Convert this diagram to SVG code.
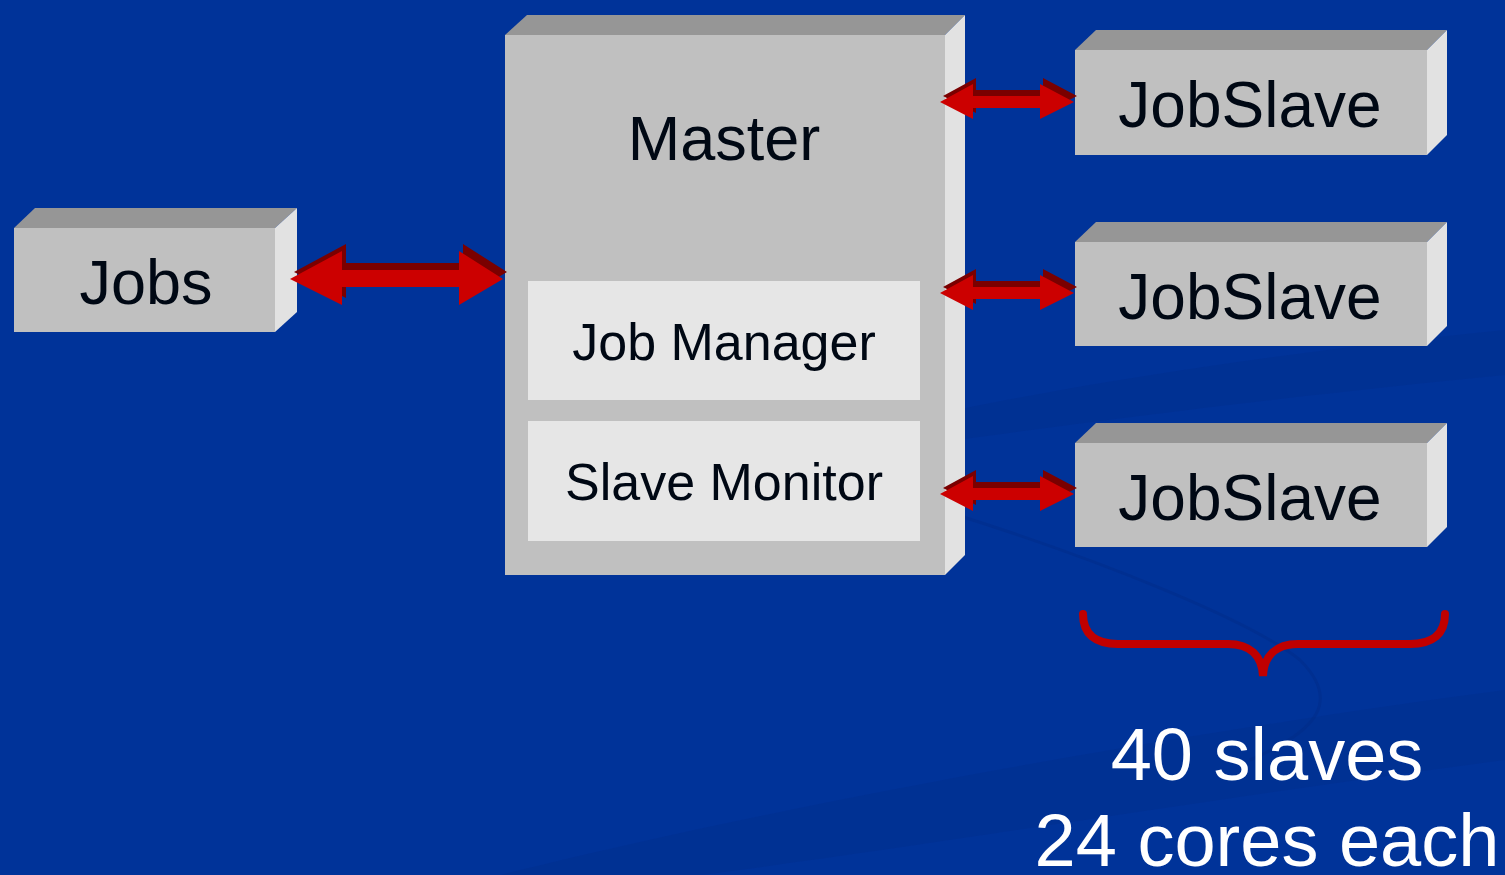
<svg xmlns="http://www.w3.org/2000/svg" xmlns:xlink="http://www.w3.org/1999/xlink" width="1505" height="875" viewBox="0 0 1505 875">
<style>
.front{fill:#c0c0c0}
.top{fill:#969696}
.side{fill:#e2e2e2}
.inner{fill:#e6e6e6}
.lbl{font-family:"Liberation Sans",Arial,sans-serif;fill:#000814;text-anchor:middle}
.wlbl{font-family:"Liberation Sans",Arial,sans-serif;fill:#ffffff;text-anchor:middle;font-size:74px}
.arF{fill:#cc0000}
.arD{fill:#7a0000}
.swoosh{fill:#002a85;opacity:0.25}
</style>
<defs>
<polygon id="sarF" points="940,0 973,-18 973,-6 1040,-6 1040,-18 1074,0 1040,17 1040,6 973,6 973,17"/>
</defs>
<rect width="1505" height="875" fill="#003399"/>
<g id="background">
<path class="swoosh" d="M957,410 C1100,380 1300,350 1505,330 L1505,375 C1300,395 1100,420 957,440 Z"/>
<path class="swoosh" d="M500,875 C800,800 1200,730 1505,690 L1505,760 C1200,800 900,850 700,875 Z"/>
<path d="M957,515 C1100,560 1250,620 1300,660 C1340,700 1320,730 1250,760" fill="none" stroke="#002a85" stroke-width="3" opacity="0.4"/>
</g>
<g id="jobs">
<polygon class="top" points="14,228 35,208 297,208 275,228"/>
<polygon class="side" points="275,228 297,208 297,312 275,332"/>
<rect class="front" x="14" y="228" width="261" height="104"/>
<text class="lbl" x="146" y="304" font-size="63">Jobs</text>
</g>
<g id="master">
<polygon class="top" points="505,35 527,15 965,15 945,35"/>
<polygon class="side" points="945,35 965,15 965,555 945,575"/>
<rect class="front" x="505" y="35" width="440" height="540"/>
<text class="lbl" x="724" y="160" font-size="63">Master</text>
</g>
<g id="job-manager">
<rect class="inner" x="528" y="281" width="392" height="119"/>
<text class="lbl" x="724" y="360" font-size="52">Job Manager</text>
</g>
<g id="slave-monitor">
<rect class="inner" x="528" y="421" width="392" height="120"/>
<text class="lbl" x="724" y="500" font-size="52">Slave Monitor</text>
</g>
<g id="jobslave-1">
<polygon class="top" points="1075,50 1096,30 1447,30 1427,50"/>
<polygon class="side" points="1427,50 1447,30 1447,135 1427,155"/>
<rect class="front" x="1075" y="50" width="352" height="105"/>
<text class="lbl" x="1250" y="127" font-size="64">JobSlave</text>
</g>
<g id="jobslave-2">
<polygon class="top" points="1075,242 1096,222 1447,222 1427,242"/>
<polygon class="side" points="1427,242 1447,222 1447,326 1427,346"/>
<rect class="front" x="1075" y="242" width="352" height="104"/>
<text class="lbl" x="1250" y="319" font-size="64">JobSlave</text>
</g>
<g id="jobslave-3">
<polygon class="top" points="1075,443 1096,423 1447,423 1427,443"/>
<polygon class="side" points="1427,443 1447,423 1447,527 1427,547"/>
<rect class="front" x="1075" y="443" width="352" height="104"/>
<text class="lbl" x="1250" y="520" font-size="64">JobSlave</text>
</g>
<g id="connectors">
<polygon class="arD" points="294,272 346,244 346,263 463,263 463,244 507,272 463,298 463,280 346,280 346,298"/>
<polygon class="arF" points="290,279 342,251 342,270 459,270 459,251 503,279 459,305 459,287 342,287 342,305"/>
<use href="#sarF" xlink:href="#sarF" class="arD" transform="translate(3,96)"/>
<use href="#sarF" xlink:href="#sarF" class="arF" transform="translate(0,102)"/>
<use href="#sarF" xlink:href="#sarF" class="arD" transform="translate(3,287)"/>
<use href="#sarF" xlink:href="#sarF" class="arF" transform="translate(0,293)"/>
<use href="#sarF" xlink:href="#sarF" class="arD" transform="translate(3,488)"/>
<use href="#sarF" xlink:href="#sarF" class="arF" transform="translate(0,494)"/>
</g>
<g id="brace">
<path d="M1083,614 C1083,634 1095,644 1118,644 L1228,644 C1250,644 1262,656 1263,676 C1264,656 1276,644 1298,644 L1410,644 C1433,644 1445,634 1445,614" fill="none" stroke="#c00000" stroke-width="8" stroke-linecap="round"/>
</g>
<g id="caption">
<text class="wlbl" x="1267" y="780">40 slaves</text>
<text class="wlbl" x="1267" y="866">24 cores each</text>
</g>
</svg>
